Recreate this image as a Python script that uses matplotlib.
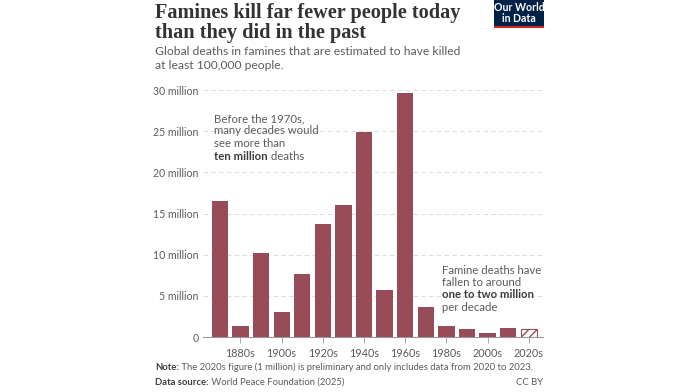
import numpy as np
from matplotlib import pyplot as plt
from matplotlib.patches import Rectangle

decades = ["1870s", "1880s", "1890s", "1900s", "1910s", "1920s", "1930s", "1940s",
           "1950s", "1960s", "1970s", "1980s", "1990s", "2000s", "2010s", "2020s"]
deaths = [16.5, 1.3, 10.15, 3.0, 7.7, 13.7, 16.0, 24.9,
          5.75, 29.65, 3.7, 1.35, 1.0, 0.5, 1.1, 1.0]
yticks = [0, 5, 10, 15, 20, 25, 30]
ylabels = ["0", "5 million", "10 million", "15 million", "20 million", "25 million", "30 million"]

barColor = "#974c57"
grey = "#5b5b5b"
plt.rcParams['font.family'] = ['Lato', 'DejaVu Sans']
plt.rcParams['hatch.color'] = barColor

fig = plt.figure(figsize=(6.99, 3.92), dpi=100)
ax = fig.add_axes([203/699, 1-337/392, 340/699, 247/392])

x = np.arange(len(decades))
ax.bar(x[:-1], deaths[:-1], width=0.79, color=barColor, zorder=3)
ax.bar(x[-1:], deaths[-1:], width=0.79, color="white", edgecolor=barColor,
       hatch="////", linewidth=0.8, zorder=3)

ax.set_xlim(-0.818, 15.69)
ax.set_ylim(0, 30)
ax.set_yticks(yticks)
ax.set_yticklabels(ylabels)
ax.set_xticks(x[1::2])
ax.set_xticklabels([decades[i] for i in x[1::2]])
ax.tick_params(axis='y', length=0, pad=3, labelsize=7.6, labelcolor=grey)
ax.tick_params(axis='x', length=4, width=0.6, color="#999999", pad=4, labelsize=7.8, labelcolor=grey)
for s in ["top", "right", "left"]:
    ax.spines[s].set_visible(False)
ax.spines["bottom"].set_color("#999999")
ax.spines["bottom"].set_linewidth(0.8)
for t in yticks[1:]:
    ax.axhline(t, color="#dddddd", linewidth=0.8, linestyle=(0, (4, 3)), zorder=1)

renderer = fig.canvas.get_renderer()

def mixed(px, py, parts, size=8.2):
    # parts: list of (text, bold) placed one after another on a line
    for txt, bold in parts:
        t = fig.text(px/699, 1-py/392, txt, fontsize=size, color=grey if not bold else "#3d3d3d",
                     fontweight="bold" if bold else "normal", va="baseline", ha="left")
        bb = t.get_window_extent(renderer)
        px += bb.width

# left annotation
mixed(214, 122, [("Before the 1970s,", False)])
mixed(214, 134.5, [("many decades would", False)])
mixed(214, 147, [("see more than", False)])
mixed(214, 159.5, [("ten million", True), (" deaths", False)])

# right annotation
mixed(442.5, 274, [("Famine deaths have", False)])
mixed(442.5, 286.5, [("fallen to around", False)])
mixed(442.5, 298.5, [("one to two million", True)])
mixed(442.5, 311, [("per decade", False)])

# title and subtitle
fig.text(155/699, 1-18/392, "Famines kill far fewer people today", fontsize=14.6,
         fontweight="bold", family=["Liberation Serif", "DejaVu Serif"], color="#333333", va="baseline")
fig.text(155/699, 1-38/392, "than they did in the past", fontsize=14.6,
         fontweight="bold", family=["Liberation Serif", "DejaVu Serif"], color="#333333", va="baseline")
fig.text(155/699, 1-55/392, "Global deaths in famines that are estimated to have killed",
         fontsize=8.7, color=grey, va="baseline")
fig.text(155/699, 1-69/392, "at least 100,000 people.", fontsize=8.7, color=grey, va="baseline")

# logo
fig.patches.append(Rectangle((494/699, 1-25.5/392), 50/699, 25.5/392, transform=fig.transFigure,
                             facecolor="#002147", edgecolor="none"))
fig.patches.append(Rectangle((494/699, 1-27.5/392), 50/699, 2/392, transform=fig.transFigure,
                             facecolor="#ce261e", edgecolor="none"))
fig.text(519/699, 1-13/392, "Our World\nin Data", fontsize=7.6, fontweight="bold", color="white",
         ha="center", va="center", linespacing=0.95)

# footer
mixed(155, 370, [("Note:", True), (" The 2020s figure (1 million) is preliminary and only includes data from 2020 to 2023.", False)], size=6.8)
mixed(155, 385, [("Data source:", True), (" World Peace Foundation (2025)", False)], size=6.8)
fig.text(543/699, 1-385/392, "CC BY", fontsize=6.8, color=grey, ha="right", va="baseline")

plt.savefig("out.png", dpi=100)
